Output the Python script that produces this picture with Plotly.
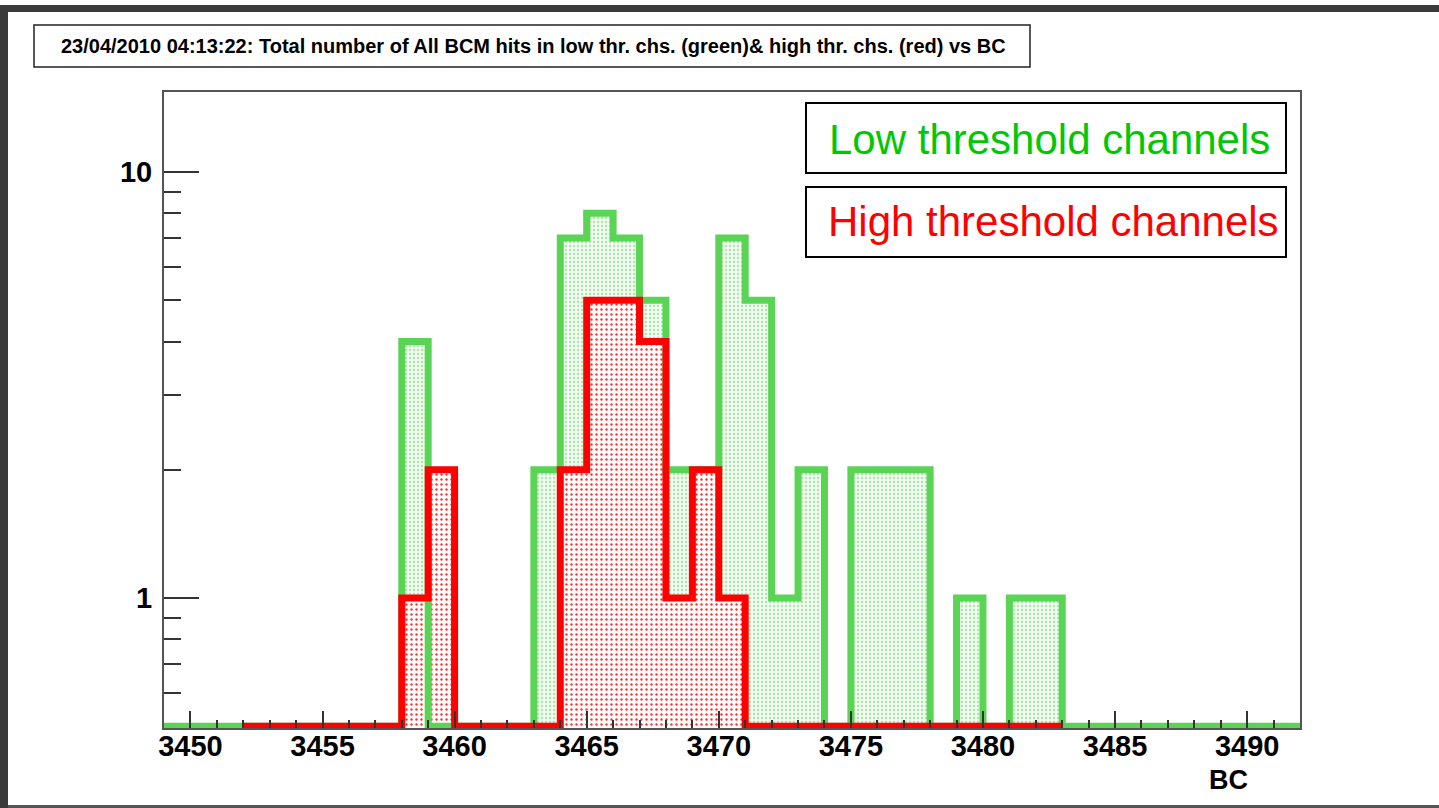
import plotly.graph_objects as go
import numpy as np

# ---------------- data ----------------
green_start = 3449          # first bin low edge (low threshold channels)
green_counts = [0, 0, 0, 0, 0, 0, 0, 0, 0,    # 3449-3457
                4, 0, 0, 0, 0,                # 3458-3462
                2, 7, 8, 7, 5, 2, 2, 7, 5,    # 3463-3471
                1, 2, 0, 2, 2, 2, 0, 1, 0,    # 3472-3480
                1, 1,                         # 3481-3482
                0, 0, 0, 0, 0, 0, 0, 0, 0]    # 3483-3491

red_start = 3452            # first bin low edge (high threshold channels)
red_counts = [0, 0, 0, 0, 0, 0,               # 3452-3457
              1, 2, 0, 0, 0, 0,               # 3458-3463
              2, 5, 5, 4, 1, 2, 1,            # 3464-3470
              0, 0, 0, 0, 0, 0, 0, 0, 0, 0, 0, 0]  # 3471-3482

x_ticks = [3450, 3455, 3460, 3465, 3470, 3475, 3480, 3485, 3490]
y_ticks = [1, 10]
y_minor = [0.6, 0.7, 0.8, 0.9, 2, 3, 4, 5, 6, 7, 8, 9]

title_text = "23/04/2010 04:13:22: Total number of All BCM hits in low thr. chs. (green)& high thr. chs. (red) vs BC"
legend_low = "Low threshold channels"
legend_high = "High threshold channels"
x_title = "BC"

# ---------------- styling ----------------
W, H = 1439, 808
L, R, T, B = 164, 139, 92, 80
YMIN_FLOOR = 0.5          # where empty bins are drawn on the log axis
x_range = [3449, 3492]
y_range = [-0.305, 1.188]

GREEN_LINE = "#5ad455"
GREEN_TEXT = "#00c800"
RED = "#ff0000"
FONT = "Liberation Sans, Arial, sans-serif"


def step_xy(start, counts):
    edges = [start + i for i in range(len(counts) + 1)]
    vals = [c if c > 0 else YMIN_FLOOR for c in counts]
    return edges, vals + [vals[-1]]


def fill_xy(start, counts, low=0.3):
    ex, ey = step_xy(start, counts)
    return [ex[0]] + ex + [ex[-1]], [low] + ey + [low]


fig = go.Figure()

gx_f, gy_f = fill_xy(green_start, green_counts)
rx_f, ry_f = fill_xy(red_start, red_counts)
gx, gy = step_xy(green_start, green_counts)
rx, ry = step_xy(red_start, red_counts)

fig.add_trace(go.Scatter(
    x=gx_f, y=gy_f, mode="lines", line_shape="hv", line=dict(width=0, color=GREEN_LINE),
    fill="toself", fillcolor="rgba(0,0,0,0)",
    fillpattern=dict(shape=".", size=4, solidity=0.4, fgcolor=GREEN_LINE,
                     bgcolor="rgba(0,0,0,0)", fillmode="overlay"),
    hoverinfo="skip", showlegend=False))
fig.add_trace(go.Scatter(
    x=rx_f, y=ry_f, mode="lines", line_shape="hv", line=dict(width=0, color=RED),
    fill="toself", fillcolor="white",
    fillpattern=dict(shape=".", size=5, solidity=0.18, fgcolor="#ff3030",
                     bgcolor="white", fillmode="replace"),
    hoverinfo="skip", showlegend=False))
fig.add_trace(go.Scatter(
    x=gx, y=gy, mode="lines", line_shape="hv",
    line=dict(width=7, color=GREEN_LINE), name=legend_low, showlegend=False))
fig.add_trace(go.Scatter(
    x=rx, y=ry, mode="lines", line_shape="hv",
    line=dict(width=7, color=RED), name=legend_high, showlegend=False))

axis_col = "#333333"
fig.update_xaxes(
    range=x_range, tickmode="array", tickvals=x_ticks,
    ticks="inside", ticklen=17, tickwidth=1.5, tickcolor=axis_col,
    minor=dict(dtick=1, tick0=3449, ticks="inside", ticklen=8, tickwidth=1.5, tickcolor=axis_col),
    showline=True, linecolor="#555555", linewidth=2, mirror=True,
    showgrid=False, zeroline=False,
    tickfont=dict(family=FONT, size=29, color="black", weight="bold"),
    ticklabelstandoff=-9)
fig.update_yaxes(
    type="log", range=y_range, tickmode="array", tickvals=y_ticks, ticktext=["1", "10"],
    ticks="inside", ticklen=35, tickwidth=1.5, tickcolor=axis_col,
    minor=dict(tickmode="array", tickvals=y_minor, ticks="inside", ticklen=17,
               tickwidth=1.5, tickcolor=axis_col, showgrid=False),
    showline=True, linecolor="#555555", linewidth=2, mirror=True,
    showgrid=False, zeroline=False,
    tickfont=dict(family=FONT, size=29, color="black", weight="bold"),
    ticklabelstandoff=4)


def px(xp):
    return (xp - L) / (W - L - R)


def py(yp):
    return (H - B - yp) / (H - T - B)


shapes = []
# page frame decoration
shapes.append(dict(type="rect", xref="paper", yref="paper", x0=px(0), x1=px(W), y0=py(12), y1=py(5),
                   fillcolor="#3a3a3a", line=dict(width=0), layer="above"))
shapes.append(dict(type="rect", xref="paper", yref="paper", x0=px(0), x1=px(8), y0=py(H), y1=py(5),
                   fillcolor="#3a3a3a", line=dict(width=0), layer="above"))
shapes.append(dict(type="rect", xref="paper", yref="paper", x0=px(8), x1=px(W), y0=py(H), y1=py(805),
                   fillcolor="#555555", line=dict(width=0), layer="above"))
# title box
shapes.append(dict(type="rect", xref="paper", yref="paper", x0=px(34), x1=px(1030), y0=py(67), y1=py(25),
                   fillcolor="white", line=dict(width=1.5, color="#222222"), layer="above"))
# legend boxes
shapes.append(dict(type="rect", xref="paper", yref="paper", x0=px(806), x1=px(1286), y0=py(173), y1=py(103),
                   fillcolor="white", line=dict(width=2, color="black"), layer="above"))
shapes.append(dict(type="rect", xref="paper", yref="paper", x0=px(806), x1=px(1286), y0=py(257), y1=py(187),
                   fillcolor="white", line=dict(width=2, color="black"), layer="above"))

annotations = [
    dict(text=title_text, xref="paper", yref="paper", x=px(533), y=py(46), xanchor="center", yanchor="middle",
         showarrow=False, font=dict(family=FONT, size=20, color="black", weight="bold")),
    dict(text=legend_low, xref="paper", yref="paper", x=px(1049), y=py(139), xanchor="center", yanchor="middle",
         showarrow=False, font=dict(family=FONT, size=42, color=GREEN_TEXT)),
    dict(text=legend_high, xref="paper", yref="paper", x=px(1053), y=py(222), xanchor="center", yanchor="middle",
         showarrow=False, font=dict(family=FONT, size=42, color=RED)),
    dict(text=x_title, xref="paper", yref="paper", x=px(1250), y=py(780), xanchor="right", yanchor="middle",
         showarrow=False, font=dict(family=FONT, size=27, color="black", weight="bold")),
]

fig.update_layout(
    width=W, height=H, margin=dict(l=L, r=R, t=T, b=B, autoexpand=False),
    paper_bgcolor="white", plot_bgcolor="white",
    shapes=shapes, annotations=annotations, showlegend=False,
)

fig.write_html("out.html")
